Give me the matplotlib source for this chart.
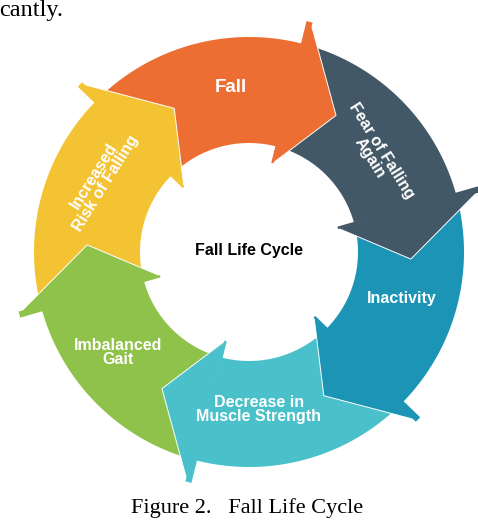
import numpy as np
import matplotlib.pyplot as plt
from matplotlib.patches import Polygon

# segments of the cycle, clockwise starting from the top
labels = ["Fall", "Fear of Falling\nAgain", "Inactivity",
          "Decrease in\nMuscle Strength", "Imbalanced\nGait",
          "Increased\nRisk of Falling"]
colors = ["#EC6E33", "#435867", "#1B94B6", "#4AC1CA", "#8FC24A", "#F4C333"]
head_angles = [15, 75, 135, 195, 255, 315]        # arrowhead base, degrees clockwise from top
label_angles = [-6.3, 52.4, 107, 176.4, 232.4, -64.2]
label_radii = [165, 160, 160, 158, 165, 165.5]
label_rot = [0, -58, 0, 0, 0, 58]
label_size = [13.5, 11.5, 11.5, 11.5, 11.5, 11.5]

center_title = "Fall Life Cycle"
caption = "Figure 2.   Fall Life Cycle"
top_text = "cantly."

W, H = 478, 522
cx, cy = 249, 252
r_in, r_out = 109, 215
r_head_in, r_head_out = 92, 238
head_len = 17.5
span = 60


def pt(theta, r):
    t = np.radians(theta)
    return cx + r * np.sin(t), cy - r * np.cos(t)


def ring(a0, a1):
    th = np.linspace(a0, a1, 80)
    outer = [pt(t, r_out) for t in th]
    inner = [pt(t, r_in) for t in th[::-1]]
    return outer + inner


fig = plt.figure(figsize=(W / 100, H / 100), dpi=100)
ax = fig.add_axes([0, 0, 1, 1])
ax.set_xlim(0, W)
ax.set_ylim(H, 0)
ax.axis("off")

# ring bodies first, arrowheads on top so they cut into the next segment
for hb, c in zip(head_angles, colors):
    ax.add_patch(Polygon(ring(hb - span, hb), closed=True, fc=c, ec="none"))

for hb, c in zip(head_angles, colors):
    tri = [pt(hb, r_head_out), pt(hb + head_len, (r_in + r_out) / 2), pt(hb, r_head_in)]
    ax.add_patch(Polygon(tri, closed=True, fc=c, ec="white", lw=0.7, joinstyle="miter"))
    # cover the white seam along the base of the head
    ax.add_patch(Polygon([pt(hb - 1, r_head_out), pt(hb + 0.5, r_head_out),
                          pt(hb + 0.5, r_head_in), pt(hb - 1, r_head_in)],
                         closed=True, fc=c, ec="none"))

for lab, a, r, rot, fs in zip(labels, label_angles, label_radii, label_rot, label_size):
    x, y = pt(a, r)
    ax.text(x, y, lab, ha="center", va="center", rotation=rot, color="white",
            fontsize=fs, fontweight="bold", family="Liberation Sans",
            linespacing=0.95, rotation_mode="anchor")

ax.text(cx, 251, center_title, ha="center", va="center", color="black",
        fontsize=11.5, fontweight="bold", family="Liberation Sans")

ax.text(247, 513, caption, ha="center", va="baseline", fontsize=16,
        family="Liberation Serif", color="black")
ax.text(-1, 16, top_text, ha="left", va="baseline", fontsize=17.5,
        family="Liberation Serif", color="black")

fig.savefig("out.png", dpi=100)
